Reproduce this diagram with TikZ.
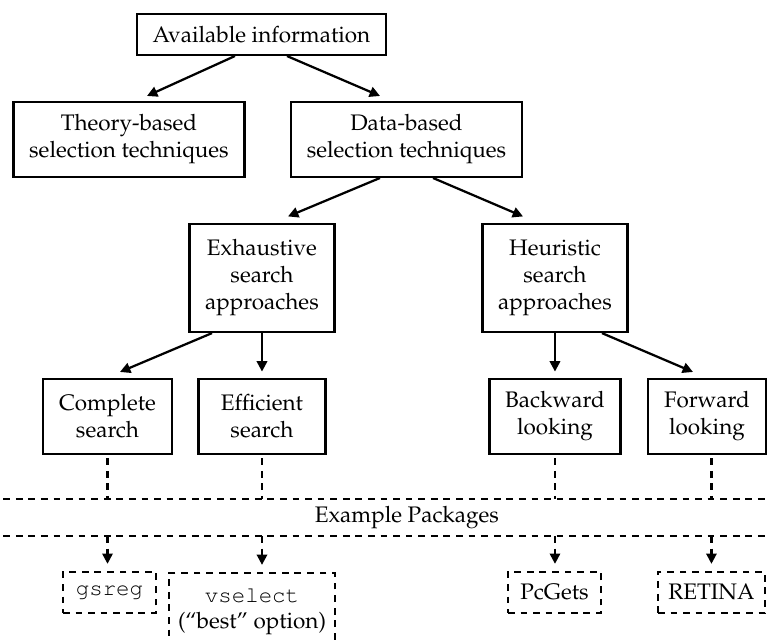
\documentclass[tikz,border=0pt]{standalone}
\usepackage[T1]{fontenc}
\usepackage{palatino}
\usetikzlibrary{arrows.meta}

\begin{document}
\begin{tikzpicture}[
  box/.style={draw, line width=1pt, align=center, inner xsep=7pt, inner ysep=0pt},
  pkg/.style={draw, line width=1pt, dash pattern=on 3pt off 2.6pt, align=center,
    inner xsep=4pt, inner ysep=4pt, minimum height=0.64cm},
  arr/.style={line width=1pt, -{Triangle[length=4.6pt,width=4.6pt]}},
  dline/.style={line width=1pt, dash pattern=on 3pt off 2.6pt}
]

\useasboundingbox (0,0) rectangle (12,10.028);

\node[box, minimum height=0.64cm] (avail) at (4.091,9.489) {Available information};
\node[box, minimum height=1.17cm] (theory) at (2.018,7.846) {Theory-based\\selection techniques};
\node[box, minimum height=1.17cm] (data) at (6.360,7.846) {Data-based\\selection techniques};

\node[box, minimum height=1.69cm] (exh) at (4.099,5.679) {Exhaustive\\search\\approaches};
\node[box, minimum height=1.69cm] (heu) at (8.683,5.679) {Heuristic\\search\\approaches};

\node[box, minimum height=1.17cm, minimum width=1.99cm] (complete) at (1.682,3.512) {Complete\\search};
\node[box, minimum height=1.17cm, minimum width=1.99cm] (efficient) at (4.099,3.512) {Efficient\\search};
\node[box, minimum height=1.17cm, minimum width=1.99cm] (backward) at (8.683,3.512) {Backward\\looking};
\node[box, minimum height=1.17cm, minimum width=1.85cm] (forward) at (11.061,3.512) {Forward\\looking};

\coordinate (upL) at (0.05,2.222);
\coordinate (upR) at (12,2.222);
\coordinate (loL) at (0.05,1.643);
\coordinate (loR) at (12,1.643);
\node (expkg) at (6.367,1.932) {Example Packages};

\node[pkg, minimum width=1.455cm] (gsreg) at (1.713,0.759) {\texttt{gsreg}};
\node[pkg, minimum width=2.534cm, inner ysep=6.5pt, anchor=north] (vselect) at (3.943,1.080) {\texttt{vselect}\\(``best'' option)};
\node[pkg, minimum width=1.455cm] (pcgets) at (8.675,0.759) {PcGets};
\node[pkg, minimum width=1.674cm] (retina) at (11.131,0.759) {RETINA};

\draw[arr] ([xshift=-0.415cm]avail.south) -- ([xshift=0.282cm,yshift=0.078cm]theory.north);
\draw[arr] ([xshift=0.399cm]avail.south) -- ([xshift=-0.415cm,yshift=0.078cm]data.north);
\draw[arr] ([xshift=-0.415cm]data.south) -- ([xshift=0.407cm,yshift=0.1cm]exh.north);
\draw[arr] ([xshift=0.415cm]data.south) -- ([xshift=-0.5cm,yshift=0.1cm]heu.north);
\draw[arr] ([xshift=-0.782cm]exh.south) -- ([xshift=0.196cm,yshift=0.094cm]complete.north);
\draw[arr] (exh.south) -- ([yshift=0.1cm]efficient.north);
\draw[arr] (heu.south) -- ([yshift=0.1cm]backward.north);
\draw[arr] ([xshift=0.735cm]heu.south) -- ([xshift=-0.219cm,yshift=0.094cm]forward.north);

\draw[dline] (upL) -- (upR);
\draw[dline] (loL) -- (loR);

\draw[dline] ([yshift=-0.05cm]complete.south) -- (complete.south |- upL);
\draw[dline] ([yshift=-0.05cm]efficient.south) -- (efficient.south |- upL);
\draw[dline] ([yshift=-0.05cm]backward.south) -- (backward.south |- upL);
\draw[dline] ([yshift=-0.05cm]retina.north |- forward.south) -- (retina.north |- upL);

\draw[dline, arr] (complete.south |- loL) -- ([yshift=0.11cm]complete.south |- gsreg.north);
\draw[dline, arr] (efficient.south |- loL) -- ([yshift=0.11cm]efficient.south |- vselect.north);
\draw[dline, arr] (backward.south |- loL) -- ([yshift=0.11cm]backward.south |- pcgets.north);
\draw[dline, arr] (retina.north |- loL) -- ([yshift=0.11cm]retina.north);

\end{tikzpicture}
\end{document}
